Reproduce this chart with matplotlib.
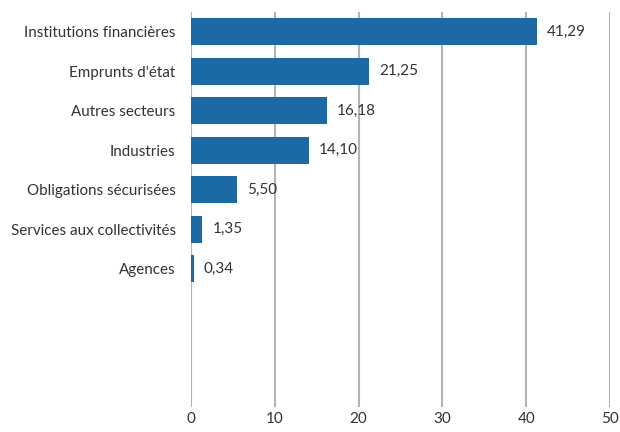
import matplotlib.pyplot as plt

categories = [
    "Institutions financières",
    "Emprunts d'état",
    "Autres secteurs",
    "Industries",
    "Obligations sécurisées",
    "Services aux collectivités",
    "Agences",
]
values = [41.29, 21.25, 16.18, 14.10, 5.50, 1.35, 0.34]
x_ticks = [0, 10, 20, 30, 40, 50]
n_slots = 10  # the chart leaves three empty rows at the bottom

plt.rcParams['font.family'] = ['Lato', 'DejaVu Sans']
text_color = '#333333'
bar_color = '#1b69a5'
grid_color = '#b3b3b3'

fig = plt.figure(figsize=(6.2, 4.32), dpi=100)
ax = fig.add_axes([0.308, 0.058, 0.676, 0.914])

pos = list(range(len(categories)))
ax.barh(pos, values, height=0.68, color=bar_color, zorder=3)

for p, v in zip(pos, values):
    label = f"{v:.2f}".replace('.', ',')
    ax.text(v + 1.2, p, label, va='center', ha='left',
            fontsize=11, color=text_color)

ax.set_xlim(0, 50)
ax.set_ylim(n_slots - 0.5, -0.5)
ax.set_xticks(x_ticks)
ax.set_xticklabels([str(t) for t in x_ticks], fontsize=11, color=text_color)
ax.set_yticks(pos)
ax.set_yticklabels(categories, fontsize=10.9, color=text_color)
ax.tick_params(axis='both', length=0)
ax.tick_params(axis='x', pad=4)
ax.tick_params(axis='y', pad=11)

ax.grid(axis='x', color=grid_color, linewidth=1.5, zorder=0)
for s in ax.spines.values():
    s.set_visible(False)

fig.savefig('out.png', dpi=100)
